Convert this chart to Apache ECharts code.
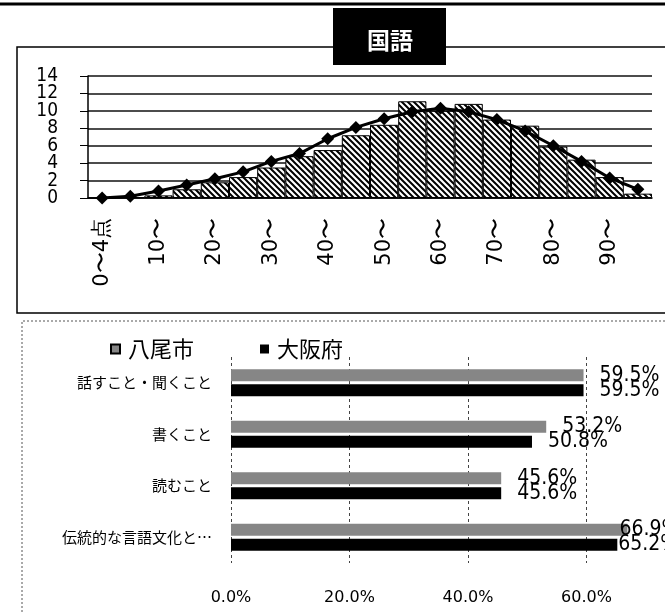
<!DOCTYPE html>
<html>
<head>
<meta charset="utf-8">
<script src="https://cdn.jsdelivr.net/npm/echarts@6/dist/echarts.min.js"></script>
<style>
html,body{margin:0;padding:0;background:#fff;}
#main{width:665px;height:612px;}
</style>
</head>
<body>
<div id="main"></div>
<script>
// 得点分布（上段）
var scoreBands = ['0〜4点','5〜','10〜','15〜','20〜','25〜','30〜','35〜','40〜','45〜',
                  '50〜','55〜','60〜','65〜','70〜','75〜','80〜','85〜','90〜','95〜'];
var yaoDist = [0.0, 0.1, 0.3, 1.0, 1.8, 2.4, 3.5, 4.8, 5.5, 7.2, 8.4, 11.1, 10.0, 10.8, 9.0, 8.3, 5.9, 4.4, 2.4, 0.5];
var osakaDist = [0.0, 0.2, 0.8, 1.5, 2.2, 3.0, 4.2, 5.1, 6.8, 8.1, 9.1, 9.9, 10.3, 9.9, 9.0, 7.7, 6.0, 4.2, 2.3, 1.0];
var distTicks = [0, 14, 2];
var distLabelsA = [0, 4, 8, 12];
var distLabelsB = [2, 6, 10, 14];

// 領域別正答率（下段）
var domains = ['話すこと・聞くこと','書くこと','読むこと','伝統的な言語文化と国語の特質に関する事項'];
var yaoRate = [59.5, 53.2, 45.6, 66.9];
var osakaRate = [59.5, 50.8, 45.6, 65.2];
var rateTicks = [0, 80, 20];

var narrow = '"Liberation Sans Narrow","DejaVu Sans Condensed",sans-serif';
var jp = '"Noto Sans CJK JP",sans-serif';
var grayBar = '#868686';

function hatch(){
    var c = document.createElement('canvas');
    c.width = 6; c.height = 6;
    var g = c.getContext('2d');
    g.fillStyle = '#fff';
    g.fillRect(0,0,6,6);
    g.strokeStyle = '#000';
    g.lineWidth = 2;
    g.beginPath();
    g.moveTo(-1,-1); g.lineTo(7,7);
    g.moveTo(-1,5); g.lineTo(1,7);
    g.moveTo(5,-1); g.lineTo(7,1);
    g.stroke();
    return c;
}

function pct(p){ return p.value.toFixed(1)+'%'; }

// 右端で切れるラベルはグラフ内に寄せる（元図の見え方）
function rateData(values, lastDist){
    return values.map(function(v, i){
        if(i === values.length-1) return {value:v, label:{distance:lastDist}};
        return v;
    });
}

// 上段の目盛ラベルは詰まっているので2本の軸に振り分ける
function distAxis(labels, main){
    return {
        gridIndex:0, type:'value', min:distTicks[0], max:distTicks[1], interval:distTicks[2],
        position:'left',
        axisLine:{show:main, lineStyle:{color:'#000',width:1.5}},
        axisTick:{show:main, length:8, lineStyle:{color:'#000'}},
        splitLine:{show:main, lineStyle:{color:'#111',width:1.5}},
        axisLabel:{margin:30, color:'#000', fontSize:19, fontFamily:narrow, customValues:labels}
    };
}

var myChart = echarts.init(document.getElementById('main'));
myChart.setOption({
    backgroundColor:'#fff',
    animation:false,
    graphic:[
        {type:'line', shape:{x1:0,y1:4,x2:665,y2:4}, style:{stroke:'#000',lineWidth:3}},
        {type:'polyline', shape:{points:[[333,47],[17,47],[17,313],[665,313]]}, style:{stroke:'#000',lineWidth:1.5,fill:null}},
        {type:'line', shape:{x1:446,y1:47,x2:665,y2:47}, style:{stroke:'#000',lineWidth:1.5}},
        {type:'rect', shape:{x:333,y:8,width:113,height:57}, style:{fill:'#000'}},
        {type:'text', x:390, y:40, style:{text:'国語', fill:'#fff', font:'bold 23px '+jp, align:'center', verticalAlign:'middle'}},
        {type:'polyline', shape:{points:[[665,321],[22,321],[22,612]]}, style:{stroke:'#555',lineWidth:1,lineDash:[2,2],fill:null}}
    ],
    legend:{
        data:[{name:'八尾市', itemStyle:{color:grayBar}}, {name:'大阪府', itemStyle:{color:'#000'}}],
        left:105, top:333,
        itemWidth:9, itemHeight:9, itemGap:66,
        icon:'rect',
        textStyle:{color:'#000', fontSize:22, fontFamily:jp, padding:[0,0,0,3]}
    },
    grid:[
        {left:88, right:13, top:76, bottom:414, outerBoundsMode:'none'},
        {left:231, right:-40, top:357, height:206, outerBoundsMode:'none'}
    ],
    xAxis:[
        {
            gridIndex:0, type:'category', data:scoreBands,
            axisLine:{lineStyle:{color:'#000',width:1.5}},
            axisTick:{interval:0, length:5, lineStyle:{color:'#000'}},
            axisLabel:{interval:1, rotate:90, margin:20, color:'#000', fontSize:21, padding:[0,0,14,0],
                fontFamily:'"DejaVu Sans",sans-serif'}
        },
        {
            gridIndex:1, type:'value', min:rateTicks[0], max:rateTicks[1], interval:rateTicks[2],
            axisLine:{show:false}, axisTick:{show:false},
            splitLine:{lineStyle:{color:'#444', type:[3,3], width:1}},
            axisLabel:{margin:27, color:'#000', fontSize:16, fontFamily:'"DejaVu Sans",sans-serif',
                formatter:function(v){return v.toFixed(1)+'%';}}
        }
    ],
    yAxis:[
        distAxis(distLabelsA, true),
        {
            gridIndex:1, type:'category', data:domains, inverse:true,
            axisLine:{show:false}, axisTick:{show:false},
            axisLabel:{margin:19, color:'#000', fontSize:15, fontFamily:jp,
                width:152, overflow:'truncate', ellipsis:'…'}
        },
        distAxis(distLabelsB, false)
    ],
    series:[
        {
            name:'八尾市', type:'bar', xAxisIndex:0, yAxisIndex:0,
            data:yaoDist, barCategoryGap:0,
            itemStyle:{color:{image:hatch(), repeat:'repeat'}, borderColor:'#000', borderWidth:1}
        },
        {
            name:'大阪府', type:'line', xAxisIndex:0, yAxisIndex:0,
            data:osakaDist, symbol:'diamond', symbolSize:13,
            lineStyle:{color:'#000',width:3},
            itemStyle:{color:'#000'}
        },
        {
            name:'八尾市', type:'bar', xAxisIndex:1, yAxisIndex:1,
            data:rateData(yaoRate, -8), barWidth:12, barGap:'25%',
            itemStyle:{color:grayBar},
            label:{show:true, position:'right', distance:16, color:'#000', fontSize:21, fontFamily:narrow, formatter:pct}
        },
        {
            name:'大阪府', type:'bar', xAxisIndex:1, yAxisIndex:1,
            data:rateData(osakaRate, 1), barWidth:12, barGap:'25%',
            itemStyle:{color:'#000'},
            label:{show:true, position:'right', distance:16, color:'#000', fontSize:21, fontFamily:narrow, formatter:pct}
        }
    ]
});
</script>
</body>
</html>
